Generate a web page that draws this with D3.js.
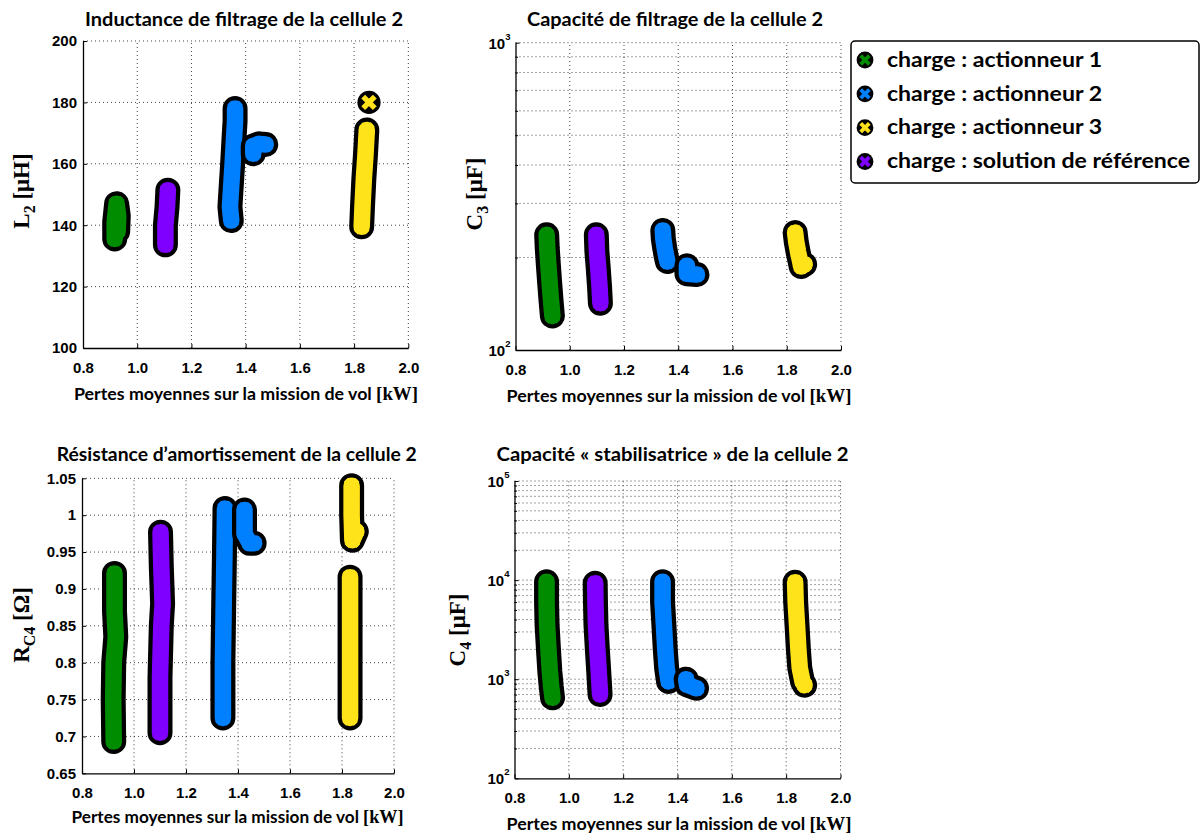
<!DOCTYPE html>
<html><head><meta charset="utf-8">
<script src="https://cdn.jsdelivr.net/npm/d3@7"></script>
<style>body{margin:0;background:#fff}svg{display:block}</style>
</head><body>
<svg id="chart" width="1201" height="838"></svg>
<script>
// ---------------- data ----------------
const seriesNames = ["charge : actionneur 1", "charge : actionneur 2", "charge : actionneur 3", "charge : solution de référence"];
const xTicks = [0.8, 1.0, 1.2, 1.4, 1.6, 1.8, 2.0];
const xTickLabels = ["0.8", "1.0", "1.2", "1.4", "1.6", "1.8", "2.0"];
const L2Ticks = [100, 120, 140, 160, 180, 200];
const L2TickLabels = ["100", "120", "140", "160", "180", "200"];
const C3Ticks = [100, 1000];
const C3TickExps = ["2", "3"];
const C3Minor = [200, 300, 400, 500, 600, 700, 800, 900];
const RTicks = [0.65, 0.7, 0.75, 0.8, 0.85, 0.9, 0.95, 1.0, 1.05];
const RTickLabels = ["0.65", "0.7", "0.75", "0.8", "0.85", "0.9", "0.95", "1", "1.05"];
const C4Ticks = [100, 1000, 10000, 100000];
const C4TickExps = ["2", "3", "4", "5"];
const C4Minor = [200, 300, 400, 500, 600, 700, 800, 900, 2000, 3000, 4000, 5000, 6000, 7000, 8000, 9000, 20000, 30000, 40000, 50000, 60000, 70000, 80000, 90000];

// each series: list of point groups, each point = [average losses kW, value]
const L2_act1 = [[[0.917, 135.5], [0.917, 141], [0.924, 147], [0.93, 143], [0.928, 138]]];
const L2_act2 = [[[1.347, 141.5], [1.342, 146], [1.347, 153], [1.352, 160], [1.357, 168], [1.361, 174], [1.361, 178]],
                 [[1.428, 163.3], [1.428, 165.8], [1.45, 166.5], [1.474, 166.3]]];
const L2_act3 = [[[1.855, 180]],
                 [[1.828, 139.5], [1.831, 146], [1.836, 155], [1.842, 163], [1.847, 171]]];
const L2_ref  = [[[1.104, 133.6], [1.104, 140], [1.11, 146], [1.113, 151.4]]];

const C3_act1 = [[[0.915, 237], [0.917, 215], [0.921, 190], [0.926, 165], [0.931, 145], [0.936, 129]]];
const C3_act2 = [[[1.343, 245], [1.345, 230], [1.35, 215], [1.355, 203], [1.36, 194]],
                 [[1.432, 188], [1.432, 177], [1.469, 176]]];
const C3_act3 = [[[1.831, 241], [1.835, 225], [1.842, 208], [1.85, 193], [1.853, 187], [1.866, 190]]];
const C3_ref  = [[[1.098, 237], [1.1, 210], [1.105, 185], [1.11, 160], [1.113, 142]]];

const R_act1 = [[[0.922, 0.693], [0.92, 0.75], [0.922, 0.8], [0.93, 0.835], [0.925, 0.87], [0.925, 0.921]]];
const R_act2 = [[[1.342, 0.725], [1.342, 0.8], [1.345, 0.88], [1.348, 0.95], [1.35, 1.009]],
                [[1.425, 1.007], [1.425, 0.975], [1.445, 0.962], [1.462, 0.962]]];
const R_act3 = [[[1.837, 1.04], [1.837, 1.0], [1.84, 0.966], [1.855, 0.978]],
                [[1.831, 0.916], [1.831, 0.85], [1.831, 0.78], [1.831, 0.725]]];
const R_ref  = [[[1.1, 0.705], [1.1, 0.78], [1.105, 0.85], [1.11, 0.88], [1.105, 0.93], [1.102, 0.977]]];

const C4_act1 = [[[0.918, 9600], [0.918, 6000], [0.92, 3500], [0.925, 2000], [0.93, 1200], [0.935, 850], [0.94, 650]]];
const C4_act2 = [[[1.345, 9600], [1.345, 6000], [1.35, 3500], [1.355, 2000], [1.36, 1300], [1.367, 950]],
                 [[1.432, 1000], [1.435, 880], [1.47, 810]]];
const C4_act3 = [[[1.833, 9500], [1.835, 6000], [1.84, 3500], [1.845, 2000], [1.85, 1300], [1.86, 950], [1.868, 870]]];
const C4_ref  = [[[1.097, 9300], [1.098, 6000], [1.1, 3500], [1.105, 2000], [1.11, 1200], [1.115, 700]]];

// ---------------- styles ----------------
const colors = ["#008c00", "#0080ff", "#ffe31a", "#8000ff"];
const FONT_SANS = "Lato, 'Open Sans', sans-serif";
const FONT_TICK = "'Liberation Sans', Arial, sans-serif";
const FONT_SERIF = "'Liberation Serif', 'Times New Roman', serif";
const MARK_R = 11.6;

const svg = d3.select("#chart");

const panels = [
  { left: 83, right: 408.3, top: 41, bottom: 348, log: false, domain: [100, 200],
    ticks: L2Ticks, tickLabels: L2TickLabels, data: [L2_act1, L2_act2, L2_act3, L2_ref],
    title: "Inductance de filtrage de la cellule 2", titleX: 244, titleY: 26, titleW: 318,
    xlabX: 246, xlabY: 400, xlabW: 344,
    ylab: [["L", 0], ["2", 1], [" [μH]", 0]], ylabX: 21, ylabY: 191 },
  { left: 515.5, right: 841, top: 42.7, bottom: 350, log: true, domain: [100, 1000],
    ticks: C3Ticks, tickExps: C3TickExps, minor: C3Minor, data: [C3_act1, C3_act2, C3_act3, C3_ref],
    title: "Capacité de filtrage de la cellule 2", titleX: 675, titleY: 26, titleW: 296,
    xlabX: 679, xlabY: 402, xlabW: 345,
    ylab: [["C", 0], ["3", 1], [" [μF]", 0]], ylabX: 474, ylabY: 194 },
  { left: 82, right: 394, top: 478.3, bottom: 773.3, log: false, domain: [0.65, 1.05],
    ticks: RTicks, tickLabels: RTickLabels, data: [R_act1, R_act2, R_act3, R_ref],
    title: "Résistance d’amortissement de la cellule 2", titleX: 236.7, titleY: 461, titleW: 360,
    xlabX: 237.5, xlabY: 823, xlabW: 332,
    ylab: [["R", 0], ["C4", 1], [" [Ω]", 0]], ylabX: 21, ylabY: 625 },
  { left: 514.5, right: 840.5, top: 481, bottom: 778.3, log: true, domain: [100, 100000],
    ticks: C4Ticks, tickExps: C4TickExps, minor: C4Minor, data: [C4_act1, C4_act2, C4_act3, C4_ref],
    title: "Capacité « stabilisatrice » de la cellule 2", titleX: 672.5, titleY: 461, titleW: 352,
    xlabX: 679, xlabY: 830, xlabW: 345,
    ylab: [["C", 0], ["4", 1], [" [μF]", 0]], ylabX: 457, ylabY: 630 }
];

function drawPanel(p) {
  const g = svg.append("g");
  const x = d3.scaleLinear().domain([0.8, 2.0]).range([p.left, p.right]);
  const y = (p.log ? d3.scaleLog() : d3.scaleLinear()).domain(p.domain).range([p.bottom, p.top]);
  const [yb, yt] = y.range();
  const [xl, xr] = x.range();

  // grid (dotted)
  const grid = g.append("g").attr("stroke", "#444").attr("stroke-width", 1)
    .attr("stroke-dasharray", "1,3").attr("fill", "none");
  grid.selectAll("line.v").data(xTicks.slice(1)).join("line").attr("class", "v")
    .attr("x1", d => x(d)).attr("x2", d => x(d)).attr("y1", yb).attr("y2", yt);
  const hLines = p.ticks.slice(1).concat(p.minor || []);
  grid.selectAll("line.h").data(hLines).join("line").attr("class", "h")
    .attr("x1", xl).attr("x2", xr).attr("y1", d => y(d)).attr("y2", d => y(d));

  // x axis
  const xa = g.append("g").attr("transform", `translate(0,${yb})`)
    .call(d3.axisBottom(x).tickValues(xTicks).tickFormat((d, i) => xTickLabels[i])
      .tickSizeInner(-4).tickSizeOuter(0).tickPadding(14));
  xa.selectAll("text").attr("font-family", FONT_TICK).attr("font-weight", "bold")
    .attr("font-size", 15).attr("fill", "#000");
  xa.select(".domain").attr("stroke-width", 1.3);
  xa.selectAll(".tick line").attr("stroke-width", 1);

  // y axis
  if (!p.log) {
    const ya = g.append("g").attr("transform", `translate(${xl},0)`)
      .call(d3.axisLeft(y).tickValues(p.ticks).tickFormat((d, i) => p.tickLabels[i])
        .tickSizeInner(-4).tickSizeOuter(0).tickPadding(6));
    ya.selectAll("text").attr("font-family", FONT_TICK).attr("font-weight", "bold")
      .attr("font-size", 15).attr("fill", "#000");
    ya.select(".domain").attr("stroke-width", 1.3);
  } else {
    const ym = g.append("g").attr("transform", `translate(${xl},0)`)
      .call(d3.axisLeft(y).tickValues(p.minor).tickFormat(() => "").tickSizeInner(-2.5).tickSizeOuter(0));
    ym.select(".domain").remove();
    const ya = g.append("g").attr("transform", `translate(${xl},0)`)
      .call(d3.axisLeft(y).tickValues(p.ticks).tickFormat(() => "").tickSizeInner(-4).tickSizeOuter(0));
    ya.select(".domain").attr("stroke-width", 1.3);
    ya.selectAll(".tick").each(function (d, i) {
      const t = d3.select(this).select("text")
        .attr("x", -5).attr("dy", "0.36em").attr("text-anchor", "end")
        .attr("font-family", FONT_TICK).attr("font-weight", "bold").attr("font-size", 15).attr("fill", "#000");
      t.text(null);
      t.append("tspan").text("10");
      t.append("tspan").attr("dy", -9).attr("font-size", 9.5).text(p.tickExps[i]);
    });
  }

  // marks
  const line = d3.line().x(d => x(d[0])).y(d => y(d[1]));
  p.data.forEach((groups, si) => {
    groups.forEach(pts => {
      const mg = g.append("g");
      if (pts.length > 1) {
        mg.append("path").attr("d", line(pts)).attr("fill", "none").attr("stroke", "#000")
          .attr("stroke-width", 25).attr("stroke-linecap", "round").attr("stroke-linejoin", "round");
      }
      mg.selectAll("circle.b").data(pts).join("circle").attr("class", "b")
        .attr("cx", d => x(d[0])).attr("cy", d => y(d[1])).attr("r", MARK_R).attr("fill", "#000");
      if (pts.length > 1) {
        mg.append("path").attr("d", line(pts)).attr("fill", "none").attr("stroke", colors[si])
          .attr("stroke-width", 16.5).attr("stroke-linecap", "round").attr("stroke-linejoin", "round");
      }
      mg.selectAll("path.x").data(pts).join("path").attr("class", "x")
        .attr("transform", d => `translate(${x(d[0])},${y(d[1])})`)
        .attr("d", "M-5.8,-5.8L5.8,5.8M-5.8,5.8L5.8,-5.8")
        .attr("stroke", colors[si]).attr("stroke-width", 5.4).attr("fill", "none");
    });
  });

  // title
  g.append("text").attr("x", p.titleX).attr("y", p.titleY).attr("text-anchor", "middle")
    .attr("font-family", FONT_SANS).attr("font-weight", "bold").attr("font-size", 18.5)
    .attr("textLength", p.titleW).attr("lengthAdjust", "spacingAndGlyphs")
    .text(p.title);

  // x label
  const xl_t = g.append("text").attr("x", p.xlabX).attr("y", p.xlabY).attr("text-anchor", "middle")
    .attr("font-weight", "bold").attr("font-size", 17)
    .attr("textLength", p.xlabW).attr("lengthAdjust", "spacingAndGlyphs");
  xl_t.append("tspan").attr("font-family", FONT_SANS).text("Pertes moyennes sur la mission de vol ");
  xl_t.append("tspan").attr("font-family", FONT_SERIF).attr("font-size", 18).text("[kW]");

  // y label
  const yl = g.append("text").attr("transform", `translate(${p.ylabX},${p.ylabY}) rotate(-90)`)
    .attr("text-anchor", "middle").attr("dy", "0.35em")
    .attr("font-family", FONT_SERIF).attr("font-weight", "bold").attr("font-size", 23);
  let shifted = false;
  p.ylab.forEach(([s, sub]) => {
    const ts = yl.append("tspan").text(s);
    if (sub && !shifted) { ts.attr("dy", 6).attr("font-size", 16); shifted = true; }
    else if (!sub && shifted) { ts.attr("dy", -6); shifted = false; }
  });
}

panels.forEach(drawPanel);

// ---------------- legend ----------------
const lg = svg.append("g");
lg.append("rect").attr("x", 851).attr("y", 41).attr("width", 348).attr("height", 142)
  .attr("rx", 4).attr("fill", "#fff").attr("stroke", "#000").attr("stroke-width", 1.5);
const rowY = d3.scalePoint().domain(seriesNames).range([60, 161.5]);
const rows = lg.selectAll("g.row").data(seriesNames).join("g").attr("class", "row")
  .attr("transform", d => `translate(865,${rowY(d)})`);
rows.append("circle").attr("r", 8.4).attr("fill", "#000");
rows.append("path").attr("d", "M-4.3,-4.3L4.3,4.3M-4.3,4.3L4.3,-4.3")
  .attr("stroke", (d, i) => colors[i]).attr("stroke-width", 3.8).attr("fill", "none");
const ltexts = rows.append("text").attr("x", 22).attr("y", 6.7)
  .attr("font-family", FONT_SANS).attr("font-weight", "bold").attr("font-size", 20.5)
  .text(d => d);
// scale legend texts uniformly so the longest matches the reference width
const lens = ltexts.nodes().map(n => n.getComputedTextLength());
const k = 303 / d3.max(lens);
ltexts.attr("textLength", (d, i) => lens[i] * k).attr("lengthAdjust", "spacingAndGlyphs");
</script>
</body></html>
